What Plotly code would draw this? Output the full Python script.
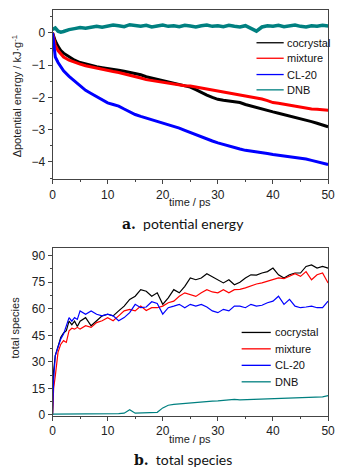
import plotly.graph_objects as go

# ---------- panel a: potential energy ----------
t_a = [0, 0.5, 1, 1.5, 2, 3, 4, 5, 6, 7, 8, 9, 10, 11, 12, 13, 14, 15, 16, 17, 18, 19, 20,
       21, 22, 23, 24, 25, 26, 27, 28, 29, 30, 31, 32, 33, 34, 35, 36, 37, 38, 39, 40,
       41, 42, 43, 44, 45, 46, 47, 48, 49, 50]
pe_cocrystal = [0, -0.25, -0.42, -0.55, -0.63, -0.75, -0.85, -0.92, -0.97, -1.01, -1.05, -1.08, -1.10,
                -1.13, -1.16, -1.19, -1.22, -1.25, -1.30, -1.36, -1.40, -1.44, -1.48, -1.52, -1.56,
                -1.60, -1.64, -1.68, -1.76, -1.85, -1.93, -2.00, -2.06, -2.09, -2.11, -2.12, -2.16,
                -2.22, -2.27, -2.31, -2.36, -2.40, -2.45, -2.49, -2.53, -2.57, -2.61, -2.65, -2.70,
                -2.75, -2.80, -2.86, -2.91]
pe_mixture = [0, -0.38, -0.55, -0.66, -0.75, -0.85, -0.92, -0.97, -1.02, -1.06, -1.10, -1.13, -1.17,
              -1.20, -1.23, -1.27, -1.30, -1.35, -1.40, -1.45, -1.48, -1.51, -1.53, -1.56, -1.59,
              -1.62, -1.64, -1.65, -1.68, -1.72, -1.75, -1.78, -1.82, -1.85, -1.88, -1.90, -1.93,
              -1.96, -1.99, -2.02, -2.05, -2.10, -2.16, -2.18, -2.21, -2.24, -2.28, -2.32, -2.34,
              -2.36, -2.37, -2.39, -2.40]
pe_cl20 = [0, -0.75, -0.92, -1.05, -1.18, -1.35, -1.50, -1.65, -1.78, -1.88, -1.97, -2.07, -2.17,
           -2.22, -2.27, -2.36, -2.45, -2.53, -2.59, -2.64, -2.69, -2.74, -2.79, -2.84, -2.89,
           -2.95, -3.02, -3.09, -3.15, -3.21, -3.28, -3.35, -3.41, -3.46, -3.52, -3.57, -3.60,
           -3.64, -3.66, -3.68, -3.71, -3.74, -3.77, -3.79, -3.81, -3.83, -3.85, -3.87, -3.91,
           -3.95, -3.99, -4.04, -4.08]
pe_dnb = [0.10, 0.15, 0.05, 0.02, 0.04, 0.10, 0.13, 0.16, 0.14, 0.18, 0.20, 0.17, 0.21,
          0.24, 0.22, 0.19, 0.25, 0.22, 0.20, 0.23, 0.18, 0.21, 0.24, 0.20, 0.22,
          0.19, 0.23, 0.21, 0.18, 0.22, 0.24, 0.20, 0.22, 0.19, 0.23, 0.20, 0.18,
          0.22, 0.12, 0.05, 0.18, 0.22, 0.20, 0.23, 0.19, 0.21, 0.24, 0.20, 0.18,
          0.22, 0.20, 0.23, 0.21]

# ---------- panel b: total species ----------
t_b = [0, 0.2, 0.5, 1, 1.5, 2, 2.5, 3, 3.5, 4, 4.5, 5, 6, 7, 8, 9, 10, 11, 12, 13, 14, 15,
       16, 17, 18, 19, 20, 21, 22, 23, 24, 25, 26, 27, 28, 29, 30, 31, 32, 33, 34, 35, 36,
       37, 38, 39, 40, 41, 42, 43, 44, 45, 46, 47, 48, 49, 50]
sp_cocrystal = [0, 25, 33.6, 39, 43.9, 46.3, 47.6, 53, 51, 53, 50, 53, 55, 50.4, 53, 56, 56.9, 56,
                58.8, 61.5, 65.3, 67.1, 70.8, 69.9, 67.1, 69, 62.5, 66.2, 70.8, 69, 72.7, 77.4,
                76.4, 77.4, 79.8, 78, 76.4, 74.6, 76.4, 73.6, 75, 77.4, 79.2, 79, 80.2, 81, 83,
                79.2, 77.4, 79.2, 80.2, 80.2, 83.9, 84.8, 83, 83.9, 83]
sp_mixture = [0, 15, 22, 35.5, 40, 42, 41, 47.6, 49, 48.5, 49.5, 48.5, 50.4, 49.5, 52.2, 53.2, 55,
              53.2, 56, 58.8, 59.7, 58.8, 61.5, 59, 60.6, 60.6, 61.5, 63.4, 64.3, 67.1, 69, 68,
              67, 69, 70.8, 69.5, 69, 70.8, 69, 70.8, 71, 71.8, 73, 74, 74.6, 75.5, 76.4,
              77.4, 77, 78.3, 79.8, 78.3, 81, 76.4, 79.2, 80.2, 74.6]
sp_cl20 = [0, 20, 33.6, 39, 43, 45.7, 50.4, 55, 53, 55, 54, 58.8, 56.9, 58.8, 56.9, 56, 57, 56,
           53.2, 55, 57.8, 62.5, 60.6, 61, 64, 63, 57, 60.6, 61.5, 62.5, 60.6, 62.5, 61.5,
           62.5, 61, 58.8, 57.8, 59.7, 58.8, 61.5, 61.5, 60.6, 62.5, 61.5, 62, 63.4, 64.3,
           67.1, 62.5, 65.3, 61.5, 60.6, 61, 61.5, 60.6, 60.6, 64.3]
sp_dnb = [0.5, 0.5, 0.5, 0.6, 0.6, 0.6, 0.6, 0.7, 0.7, 0.7, 0.7, 0.7, 0.7, 0.8, 0.8, 0.8, 0.8,
          0.8, 0.8, 1.0, 3.0, 1.0, 1.2, 1.3, 1.5, 1.5, 4.0, 5.5, 6.0, 6.3, 6.7, 6.8, 7.0, 7.3,
          7.6, 7.8, 8.0, 8.3, 8.5, 8.8, 8.5, 8.6, 8.6, 8.8, 9.0, 9.1, 9.3, 9.4, 9.5, 9.5, 9.5,
          9.6, 9.8, 9.8, 9.8, 10.2, 10.9]

names = ["cocrystal", "mixture", "CL-20", "DNB"]
colors = ["#000000", "#ff0000", "#0000ff", "#008080"]
W, H = 348, 475

fig = go.Figure()
for name, ys, c in zip(names, [pe_cocrystal, pe_mixture, pe_cl20, pe_dnb], colors):
    fig.add_trace(go.Scatter(x=t_a, y=ys, mode="lines", name=name,
                             line=dict(color=c, width=3.5 if name == "DNB" else 3),
                             xaxis="x", yaxis="y"))
for name, ys, c in zip(names, [sp_cocrystal, sp_mixture, sp_cl20, sp_dnb], colors):
    fig.add_trace(go.Scatter(x=t_b, y=ys, mode="lines", name=name,
                             line=dict(color=c, width=1.2), xaxis="x2", yaxis="y2"))

tickfont = dict(family="Liberation Sans, Arial, sans-serif", size=12, color="#222")
axcommon = dict(showline=True, mirror=True, linecolor="#444", linewidth=1, ticks="outside",
                ticklen=4, tickcolor="#444", tickfont=tickfont, showgrid=False, zeroline=False)
xd = [51 / W, 334.7 / W]

fig.update_layout(
    width=W, height=H, margin=dict(l=0, r=0, t=0, b=0),
    paper_bgcolor="white", plot_bgcolor="white", showlegend=False,
    xaxis=dict(domain=xd, range=[0, 50], dtick=10, anchor="y",
               minor=dict(dtick=5, ticks="outside", ticklen=2, tickcolor="#444"), **axcommon),
    yaxis=dict(domain=[1 - 181.7 / H, 1 - 10 / H], range=[-4.54, 0.71], dtick=1, anchor="x",
               minor=dict(dtick=0.5, ticks="outside", ticklen=2, tickcolor="#444"), **axcommon),
    xaxis2=dict(domain=xd, range=[0, 50], dtick=10, anchor="y2",
                minor=dict(dtick=5, ticks="outside", ticklen=2, tickcolor="#444"), **axcommon),
    yaxis2=dict(domain=[1 - 421 / H, 1 - 250.7 / H], range=[-0.4, 94.6], dtick=15, anchor="x2",
                minor=dict(dtick=7.5, ticks="outside", ticklen=2, tickcolor="#444"), **axcommon),
)

# custom legends (key lines + labels), positioned in paper space
legfont = dict(family="Liberation Sans, Arial, sans-serif", size=11, color="#111")
leg_a = dict(x0=261, x1=289, xt=290.5, ys=[43.3, 59, 75.5, 91])
leg_b = dict(x0=245.7, x1=275.7, xt=277.5, ys=[336.7, 353.3, 370, 386.7])
for leg in (leg_a, leg_b):
    for name, c, yy in zip(names, colors, leg["ys"]):
        fig.add_shape(type="line", xref="paper", yref="paper",
                      x0=leg["x0"] / W, x1=leg["x1"] / W, y0=1 - yy / H, y1=1 - yy / H,
                      line=dict(color=c, width=1.3))
        fig.add_annotation(xref="paper", yref="paper", x=leg["xt"] / W, y=1 - yy / H,
                           text=name, showarrow=False, xanchor="left", yanchor="middle",
                           font=legfont)

titlefont = dict(family="Liberation Sans, Arial, sans-serif", size=11, color="#222")
capfont = dict(family="Lato, Open Sans, sans-serif", size=14, color="#111")
anns = [
    dict(text="time / ps", x=192.8 / W, y=1 - 205 / H, font=titlefont),
    dict(text="time / ps", x=192.8 / W, y=1 - 444.5 / H, font=titlefont),
    dict(text="Δpotential energy / kJ·g<sup>-1</sup>", x=14 / W, y=1 - 98 / H,
         font=titlefont, textangle=-90),
    dict(text="total species", x=12 / W, y=1 - 332 / H, font=titlefont, textangle=-90),
    dict(text="<span style='font-family:DejaVu Serif'><b>a.</b></span>  potential energy",
         x=185 / W, y=1 - 226 / H, font=capfont),
    dict(text="<span style='font-family:DejaVu Serif'><b>b.</b></span>  total species",
         x=185 / W, y=1 - 465 / H, font=capfont),
]
for a in anns:
    fig.add_annotation(xref="paper", yref="paper", showarrow=False, xanchor="center",
                       yanchor="middle", **a)

fig.write_html("out.html")
